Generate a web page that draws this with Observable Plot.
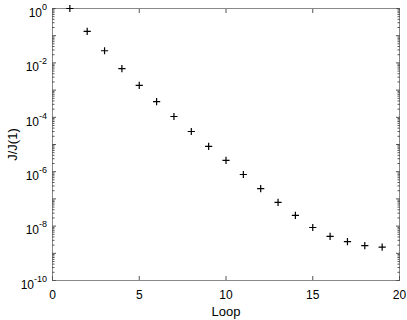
<!DOCTYPE html>
<html><head><meta charset="utf-8">
<script src="https://cdn.jsdelivr.net/npm/d3@7"></script>
<script src="https://cdn.jsdelivr.net/npm/@observablehq/plot@0.6"></script>
<style>body{margin:0;background:#fff}</style>
</head><body><div id="chart"></div>
<script>
const loops = [1,2,3,4,5,6,7,8,9,10,11,12,13,14,15,16,17,18,19];
const ratios = [1, 0.143, 0.028, 0.0062, 0.0015, 3.8e-4, 1.07e-4, 3.0e-5, 8.5e-6, 2.6e-6,
  7.9e-7, 2.4e-7, 7.4e-8, 2.5e-8, 8.9e-9, 4.2e-9, 2.7e-9, 1.9e-9, 1.7e-9];
const xTicks = [0, 5, 10, 15, 20];
const xTopTicks = [5, 10, 15];
const yLabelExponents = [0, -2, -4, -6, -8, -10];
const yDecadeExponents = [0, -1, -2, -3, -4, -5, -6, -7, -8, -9, -10];
const minorMultipliers = [2, 3, 4, 5, 6, 7, 8, 9];
const xLabel = "Loop";
const yLabel = "J/J(1)";

const data = loops.map((l, i) => ({loop: l, ratio: ratios[i]}));
const majorY = yDecadeExponents.map(e => Math.pow(10, e));
const minorY = [];
for (const e of yDecadeExponents.slice(1)) for (const m of minorMultipliers) minorY.push(m * Math.pow(10, e));

const cross = {
  draw(ctx, size) {
    const r = Math.sqrt(size / Math.PI);
    ctx.moveTo(-r, 0); ctx.lineTo(r, 0);
    ctx.moveTo(0, -r); ctx.lineTo(0, r);
  }
};

const tickColor = "#555";
const chart = Plot.plot({
  width: 407, height: 320,
  marginLeft: 52, marginRight: 8, marginTop: 8, marginBottom: 40,
  style: {fontFamily: "'Liberation Sans', Arial, Helvetica, sans-serif", fontSize: "12px", background: "#fff", color: "#000"},
  x: {domain: [0, 20]},
  y: {type: "log", domain: [1e-10, 1]},
  marks: [
    Plot.frame({stroke: "#888"}),
    Plot.axisX({anchor: "bottom", ticks: xTicks, tickSize: 0, tickPadding: 10, label: null, tickFormat: d => String(d)}),
    Plot.axisX({anchor: "bottom", ticks: xTicks, tickSize: -4, text: null, label: null, stroke: tickColor}),
    Plot.axisX({anchor: "top", ticks: xTopTicks, tickSize: -4, text: null, label: null, stroke: tickColor}),
    Plot.axisY({anchor: "left", ticks: yLabelExponents.map(e => Math.pow(10, e)), tickSize: 0, tickPadding: 5.5, dy: 4.5, label: null,
      tickFormat: v => "10^" + Math.round(Math.log10(v))}),
    Plot.axisY({anchor: "left", ticks: majorY, tickSize: -4, text: null, label: null, stroke: tickColor}),
    Plot.axisY({anchor: "left", ticks: minorY, tickSize: -2.5, text: null, label: null, stroke: tickColor}),
    Plot.axisY({anchor: "right", ticks: majorY, tickSize: -4, text: null, label: null, stroke: tickColor}),
    Plot.axisY({anchor: "right", ticks: minorY, tickSize: -2.5, text: null, label: null, stroke: tickColor}),
    Plot.dot(data, {x: "loop", y: "ratio", symbol: cross, r: 3.6, stroke: "#000", strokeWidth: 1.2, fill: "none"}),
    Plot.text([xLabel], {frameAnchor: "bottom", lineAnchor: "middle", textAnchor: "middle", dy: 31, text: d => d, fontSize: 13}),
    Plot.text([yLabel], {frameAnchor: "left", lineAnchor: "middle", textAnchor: "middle", rotate: -90, dx: -40, text: d => d, fontSize: 13})
  ]
});
document.getElementById("chart").appendChild(chart);

// superscript exponents on the y tick labels
chart.querySelectorAll('g[aria-label="y-axis tick label"] text').forEach(t => {
  const s = t.textContent;
  const idx = s.indexOf("^");
  if (idx < 0) return;
  const base = s.slice(0, idx), exp = s.slice(idx + 1).replace("\u2212", "-");
  t.textContent = base;
  const ts = document.createElementNS("http://www.w3.org/2000/svg", "tspan");
  ts.setAttribute("dy", "-7");
  ts.setAttribute("font-size", "9");
  ts.textContent = exp;
  t.appendChild(ts);
});
</script>
</body></html>
